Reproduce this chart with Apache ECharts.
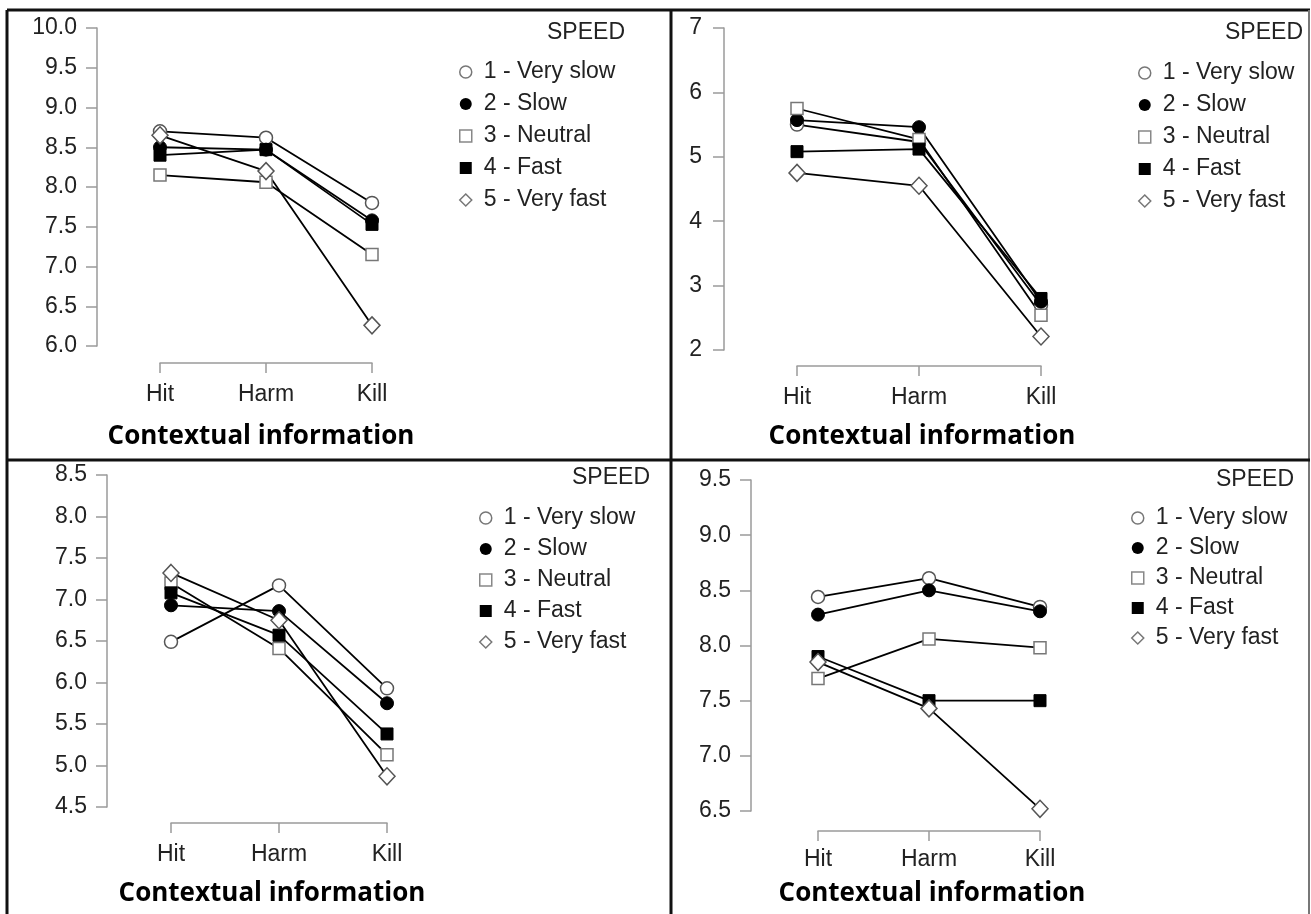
<!DOCTYPE html>
<html>
<head>
<meta charset="utf-8">
<script src="https://cdn.jsdelivr.net/npm/echarts@6/dist/echarts.min.js"></script>
<style>
html,body{margin:0;padding:0;background:#fff;}
#chart{width:1311px;height:914px;}
</style>
</head>
<body>
<div id="chart"></div>
<script>
// ---------- data ----------
const categories = ['Hit', 'Harm', 'Kill'];
const speedLabels = ['1 - Very slow', '2 - Slow', '3 - Neutral', '4 - Fast', '5 - Very fast'];
const legendTitle = 'SPEED';
const xAxisTitle = 'Contextual information';

// top-left panel
const tlVerySlow = [8.70, 8.62, 7.80];
const tlSlow     = [8.50, 8.47, 7.58];
const tlNeutral  = [8.15, 8.06, 7.15];
const tlFast     = [8.40, 8.47, 7.53];
const tlVeryFast = [8.65, 8.20, 6.26];
const tlTicks    = [6.0, 10.0, 0.5];

// top-right panel
const trVerySlow = [5.50, 5.23, 2.70];
const trSlow     = [5.57, 5.46, 2.75];
const trNeutral  = [5.75, 5.27, 2.54];
const trFast     = [5.08, 5.12, 2.80];
const trVeryFast = [4.75, 4.55, 2.21];
const trTicks    = [2, 7, 1];

// bottom-left panel
const blVerySlow = [6.49, 7.17, 5.93];
const blSlow     = [6.93, 6.86, 5.75];
const blNeutral  = [7.20, 6.41, 5.13];
const blFast     = [7.08, 6.57, 5.38];
const blVeryFast = [7.32, 6.75, 4.87];
const blTicks    = [4.5, 8.5, 0.5];

// bottom-right panel
const brVerySlow = [8.44, 8.61, 8.35];
const brSlow     = [8.28, 8.50, 8.31];
const brNeutral  = [7.70, 8.06, 7.98];
const brFast     = [7.90, 7.50, 7.50];
const brVeryFast = [7.85, 7.43, 6.52];
const brTicks    = [6.5, 9.5, 0.5];

// ---------- layout / style ----------
const panels = [
  { series: [tlVerySlow, tlSlow, tlNeutral, tlFast, tlVeryFast], ticks: tlTicks, dec: 1,
    grid: { left: 160, top: 28, width: 212, height: 318 }, yOff: 63, xOff: 17, yMargin: 20, xMargin: 20,
    nameGap: 61, namePad: [0, 10, 0, 0],
    legend: { left: 459, top: 60.5, gap: 9 }, title: { right: 686, top: 21.5 } },
  { series: [trVerySlow, trSlow, trNeutral, trFast, trVeryFast], ticks: trTicks, dec: 0,
    grid: { left: 797, top: 28, width: 244, height: 322 }, yOff: 73, xOff: 16, yMargin: 22, xMargin: 20,
    nameGap: 58, namePad: [0, 0, 0, 6],
    legend: { left: 1138, top: 61.5, gap: 9 }, title: { right: 8, top: 21.5 } },
  { series: [blVerySlow, blSlow, blNeutral, blFast, blVeryFast], ticks: blTicks, dec: 1,
    grid: { left: 171, top: 475, width: 216, height: 332 }, yOff: 64, xOff: 16, yMargin: 20, xMargin: 20,
    nameGap: 58, namePad: [0, 14, 0, 0],
    legend: { left: 479, top: 506.5, gap: 8 }, title: { right: 661, top: 466.5 } },
  { series: [brVerySlow, brSlow, brNeutral, brFast, brVeryFast], ticks: brTicks, dec: 1,
    grid: { left: 818, top: 480, width: 222, height: 331 }, yOff: 67, xOff: 20, yMargin: 20, xMargin: 17,
    nameGap: 50, namePad: [0, 0, 0, 6],
    legend: { left: 1131, top: 506.5, gap: 7 }, title: { right: 17, top: 468.5 } }
];

const FONT = 'Liberation Sans, Arial, sans-serif';
const axisGray = '#9a9a9a';
const openStroke = '#555';
const symbols = ['circle', 'circle', 'rect', 'rect', 'diamond'];
const symbolSizes = [13, 13, 12, 12, [16, 17]];
const markerStyles = [
  { color: '#fff', borderColor: openStroke, borderWidth: 1.5 },
  { color: '#000', borderColor: '#000', borderWidth: 1 },
  { color: '#fff', borderColor: '#777', borderWidth: 1.5 },
  { color: '#000', borderColor: '#000', borderWidth: 1 },
  { color: '#fff', borderColor: openStroke, borderWidth: 1.5 }
];
const legendStyles = [
  { color: '#fff', borderColor: '#777', borderWidth: 1.5 },
  { color: '#000', borderColor: '#000', borderWidth: 0 },
  { color: '#fff', borderColor: '#888', borderWidth: 1.5 },
  { color: '#000', borderColor: '#000', borderWidth: 0 },
  { color: '#fff', borderColor: '#777', borderWidth: 1.5 }
];

const option = {
  animation: false,
  backgroundColor: '#fff',
  grid: [], xAxis: [], yAxis: [], series: [], legend: [], title: [],
  graphic: []
};

panels.forEach((p, i) => {
  option.grid.push(Object.assign({ containLabel: false }, p.grid));
  option.xAxis.push({
    type: 'category', gridIndex: i, data: categories, boundaryGap: false,
    offset: p.xOff,
    axisLine: { lineStyle: { color: axisGray, width: 1.5 } },
    axisTick: { show: true, length: 10, inside: false, lineStyle: { color: axisGray, width: 1.5 } },
    axisLabel: { margin: p.xMargin, color: '#222', fontFamily: FONT, fontSize: 23, lineHeight: 23 },
    splitLine: { show: false },
    name: xAxisTitle, nameLocation: 'middle', nameGap: p.nameGap,
    nameTextStyle: { fontFamily: '"Open Sans", sans-serif', fontWeight: 'bold', fontSize: 26,
      color: '#000', lineHeight: 26, padding: p.namePad }
  });
  option.yAxis.push({
    type: 'value', gridIndex: i, min: p.ticks[0], max: p.ticks[1], interval: p.ticks[2],
    offset: p.yOff,
    axisLine: { show: true, lineStyle: { color: axisGray, width: 1.5 } },
    axisTick: { show: true, length: 11, inside: false, lineStyle: { color: axisGray, width: 1.5 } },
    axisLabel: { margin: p.yMargin, color: '#222', fontFamily: FONT, fontSize: 23,
      formatter: v => v.toFixed(p.dec) },
    splitLine: { show: false }
  });
  p.series.forEach((vals, j) => {
    option.series.push({
      type: 'line', name: speedLabels[j], xAxisIndex: i, yAxisIndex: i,
      data: vals, symbol: symbols[j], symbolSize: symbolSizes[j],
      showAllSymbol: true,
      itemStyle: markerStyles[j],
      lineStyle: { color: '#000', width: 1.8 },
      emphasis: { disabled: true }
    });
  });
  option.legend.push({
    orient: 'vertical', left: p.legend.left, top: p.legend.top, padding: 0,
    itemGap: p.legend.gap, itemWidth: 12, itemHeight: 12,
    selectedMode: false,
    data: speedLabels.map((n, j) => ({ name: n, icon: symbols[j], itemStyle: legendStyles[j] })),
    textStyle: { fontFamily: FONT, fontSize: 23, color: '#222', lineHeight: 23, padding: [0, 0, 0, 7] }
  });
  option.title.push({
    text: legendTitle, right: p.title.right, top: p.title.top, padding: 0,
    textStyle: { fontFamily: FONT, fontSize: 23, fontWeight: 'normal', color: '#222', lineHeight: 23 }
  });
});

// frame lines
const frame = [
  [7, 10, 1310, 10, '#111', 3],
  [7, 10, 7, 914, '#111', 3],
  [1309, 10, 1309, 914, '#777', 2],
  [671, 10, 671, 914, '#111', 3],
  [7, 460, 1310, 460, '#111', 3]
];
frame.forEach(f => option.graphic.push({
  type: 'line', silent: true, z: 100,
  shape: { x1: f[0], y1: f[1], x2: f[2], y2: f[3] },
  style: { stroke: f[4], lineWidth: f[5] }
}));

const chart = echarts.init(document.getElementById('chart'), null, { renderer: 'canvas' });
chart.setOption(option);
</script>
</body>
</html>
